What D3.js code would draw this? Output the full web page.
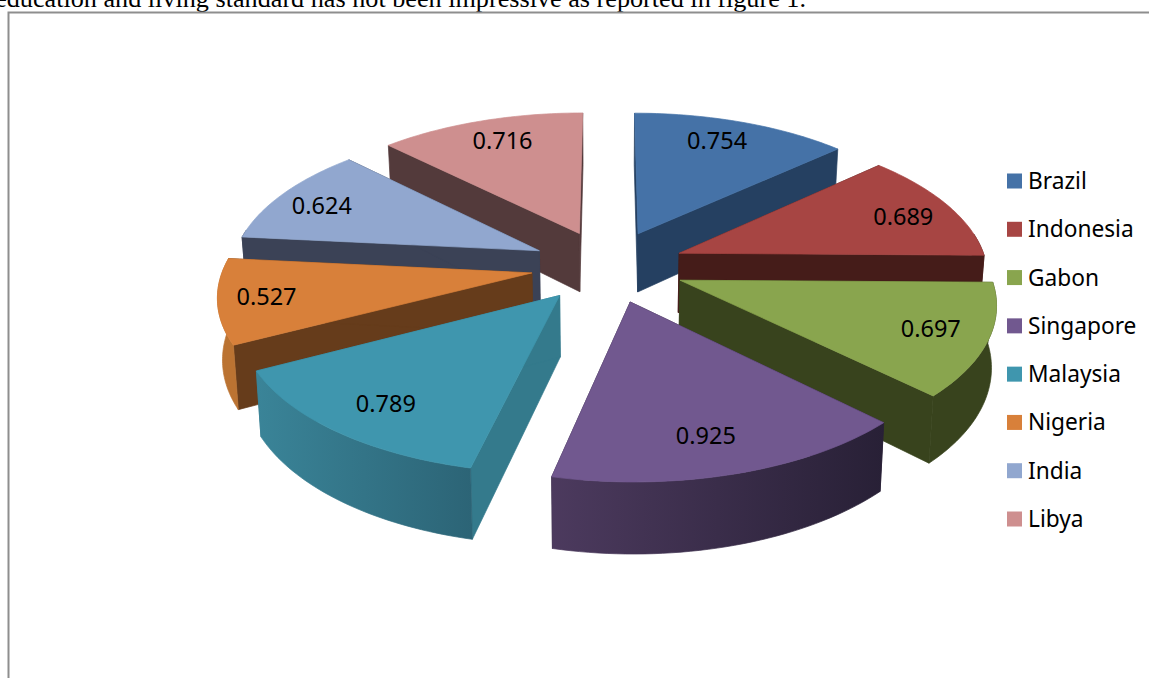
<!DOCTYPE html>
<html>
<head>
<meta charset="utf-8">
<script src="https://d3js.org/d3.v7.min.js"></script>
<style>
    html, body { margin: 0; padding: 0; background: #fff; overflow: hidden; }
    svg { display: block; }
</style>
</head>
<body>
<div id="chart"></div>
<script>
// chart data
const countries = ["Brazil", "Indonesia", "Gabon", "Singapore", "Malaysia", "Nigeria", "India", "Libya"];
const values = [0.754, 0.689, 0.697, 0.925, 0.789, 0.527, 0.624, 0.716];

// colours per slice: top face, radial wall, outer wall (left and right end of the shading)
const topColors = ["#4572a7", "#a74543", "#89a54e", "#71588f", "#3f96ae", "#d8803a", "#91a7cf", "#ce8f8f"];
const wallColors = ["#254061", "#451c19", "#38431d", "#2b2138", "#347a8c", "#663c1b", "#3b4256", "#533a3b"];
const arcLeftColors = ["#254061", "#451c19", "#38431d", "#4c3a5e", "#3a8498", "#bb7332", "#3b4256", "#533a3b"];
const arcRightColors = ["#254061", "#451c19", "#38431d", "#282036", "#2c6476", "#bb7332", "#3b4256", "#533a3b"];

// hand tweaks of the value labels, in pixels
const labelNudgeX = [-7, 5, 4, -8, 3, -12, -8, 5];
const labelNudgeY = [-1, 3, 0, -1, 1, 1, 2, 0];

const width = 1149, height = 678;

// 3d set up of the pie
const cx = 608, cy = 266;
const radius = 308, radiusY = 145;
const perspective = 0.135;
const explode = 0.25;
const depth = 60;
const converge = 0.987;
const labelDist = 0.81;

const svg = d3.select("#chart")
    .append("svg")
    .attr("width", width)
    .attr("height", height);

const defs = svg.append("defs");

// text of the page above the chart
svg.append("text")
    .attr("x", 806)
    .attr("y", 7)
    .attr("text-anchor", "end")
    .attr("font-family", "'Liberation Serif', serif")
    .attr("font-size", "26.2px")
    .attr("fill", "#000")
    .text("education and living standard has not been impressive as reported in figure 1.");

// chart frame, only top and left are in the picture
svg.append("path")
    .attr("d", "M8.5," + height + "V12.5H" + width)
    .attr("fill", "none")
    .attr("stroke", "#8e8e8e")
    .attr("stroke-width", 2);

// ground point -> screen, h is 0 on the top face and 1 on the bottom face
function project(gx, gz, h) {
    const s = 1 / (1 - perspective * gz);
    const k = h ? converge : 1;
    return [cx + radius * gx * s * k, cy + radiusY * gz * s + h * depth * s];
}

const pie = d3.pie().sort(null).value(d => d)(values);

const slices = pie.map((d, i) => {
    const mid = (d.startAngle + d.endAngle) / 2;
    return {
        i: i,
        start: d.startAngle,
        end: d.endAngle,
        mid: mid,
        ax: explode * Math.sin(mid),
        az: -explode * Math.cos(mid)
    };
});

const line = d3.line();

// back slices first so the front ones cover them
const order = slices.slice().sort((a, b) => d3.ascending(a.az, b.az));

order.forEach(s => {
    const g = svg.append("g").attr("class", "slice");
    const angles = d3.range(41).map(j => s.start + (s.end - s.start) * j / 40);
    const rim = (as, h) => as.map(a => project(s.ax + Math.sin(a), s.az - Math.cos(a), h));
    const apexTop = project(s.ax, s.az, 0);
    const apexBottom = project(s.ax, s.az, 1);
    const rimTop = rim(angles, 0);
    const rimBottom = rim(angles, 1);

    // two radial walls
    [rimTop[0], rimTop[40]].forEach((p, n) => {
        const q = n ? rimBottom[40] : rimBottom[0];
        g.append("path")
            .attr("d", line([apexTop, p, q, apexBottom]) + "Z")
            .attr("fill", wallColors[s.i])
            .attr("stroke", wallColors[s.i])
            .attr("stroke-width", 0.7);
    });

    // outer wall, only the part of the rim that faces the viewer
    const frontAngles = angles.filter(a => Math.cos(a) < 0.15);
    if (frontAngles.length > 1) {
        const frontTop = rim(frontAngles, 0);
        const frontBottom = rim(frontAngles, 1);

        // shading along the outer wall
        const xs = d3.extent(frontTop.concat(frontBottom), p => p[0]);
        const grad = defs.append("linearGradient")
            .attr("id", "arc" + s.i)
            .attr("gradientUnits", "userSpaceOnUse")
            .attr("x1", xs[0]).attr("x2", xs[1])
            .attr("y1", 0).attr("y2", 0);
        grad.append("stop").attr("offset", 0).attr("stop-color", arcLeftColors[s.i]);
        grad.append("stop").attr("offset", 1).attr("stop-color", arcRightColors[s.i]);

        g.append("path")
            .attr("d", line(frontTop.concat(frontBottom.reverse())) + "Z")
            .attr("fill", "url(#arc" + s.i + ")")
            .attr("stroke", "url(#arc" + s.i + ")")
            .attr("stroke-width", 0.7);
    }

    // top face
    g.append("path")
        .attr("d", line([apexTop].concat(rimTop)) + "Z")
        .attr("fill", topColors[s.i])
        .attr("stroke", topColors[s.i])
        .attr("stroke-width", 0.7);
});

// value labels
svg.selectAll(".value_label")
    .data(slices)
    .enter()
    .append("text")
    .attr("class", "value_label")
    .attr("x", d => project(d.ax + labelDist * Math.sin(d.mid), d.az - labelDist * Math.cos(d.mid), 0)[0] + labelNudgeX[d.i])
    .attr("y", d => project(d.ax + labelDist * Math.sin(d.mid), d.az - labelDist * Math.cos(d.mid), 0)[1] + labelNudgeY[d.i])
    .attr("dy", "0.35em")
    .attr("text-anchor", "middle")
    .attr("font-family", "'Noto Sans', sans-serif")
    .attr("font-size", "23.5px")
    .attr("fill", "#000")
    .text(d => values[d.i].toFixed(3));

// legend
const legendY = d3.scalePoint()
    .domain(countries)
    .range([181, 519]);

const legend = svg.selectAll(".legend_item")
    .data(countries)
    .enter()
    .append("g")
    .attr("class", "legend_item")
    .attr("transform", d => "translate(1007," + legendY(d) + ")");

legend.append("rect")
    .attr("x", 0)
    .attr("y", -7.5)
    .attr("width", 15)
    .attr("height", 15)
    .attr("fill", (d, i) => topColors[i]);

legend.append("text")
    .attr("x", 21)
    .attr("dy", "0.35em")
    .attr("font-family", "'Noto Sans', sans-serif")
    .attr("font-size", "22.7px")
    .attr("fill", "#000")
    .text(d => d);
</script>
</body>
</html>
